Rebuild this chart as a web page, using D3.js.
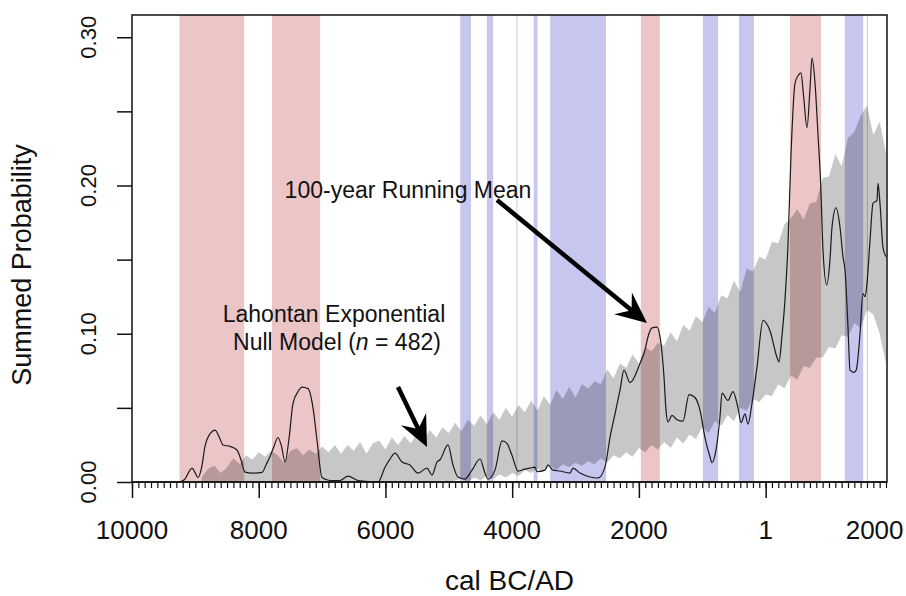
<!DOCTYPE html>
<html><head><meta charset="utf-8">
<script src="https://cdn.jsdelivr.net/npm/d3@7"></script>
<style>
body{margin:0;background:#fff;}
svg{display:block;}
text{font-family:"Liberation Sans",Arial,Helvetica,sans-serif;fill:#111;}
</style>
</head><body>
<svg id="chart" width="906" height="596"></svg>
<script>
// ---- data ----
const curveYears = [-9250,-9164,-9100,-9053,-9000,-8958,-8900,-8848,-8760,-8690,-8620,-8564,-8453,-8343,-8280,-8217,-8100,-7948,-7880,-7822,-7760,-7696,-7640,-7585,-7520,-7459,-7380,-7317,-7222,-7143,-7080,-7001,-6875,-6717,-6591,-6433,-6117,-6007,-5920,-5849,-5739,-5613,-5486,-5344,-5265,-5186,-5139,-5013,-4934,-4855,-4744,-4634,-4508,-4429,-4381,-4271,-4160,-4082,-4003,-3908,-3798,-3719,-3640,-3608,-3482,-3434,-3356,-3245,-3087,-3040,-2929,-2772,-2645,-2535,-2456,-2377,-2298,-2235,-2140,-1982,-1904,-1856,-1793,-1714,-1667,-1604,-1572,-1541,-1477,-1399,-1304,-1209,-1115,-1036,-957,-878,-846,-783,-720,-688,-594,-515,-436,-388,-325,-278,-215,-136,-41,69,180,211,259,306,353,400,464,511,558,600,653,700,732,780,827,870,906,964,1016,1048,1111,1174,1221,1253,1300,1332,1395,1430,1490,1537,1570,1600,1648,1695,1758,1774,1805,1853,1900];
const curveValues = [0.000,0.002,0.007,0.0094,0.006,0.003,0.010,0.024,0.033,0.035,0.030,0.025,0.024,0.0216,0.015,0.0067,0.006,0.0065,0.012,0.017,0.024,0.030,0.024,0.0135,0.030,0.053,0.061,0.064,0.063,0.050,0.028,0.003,0.001,0.001,0.004,0.001,0.000,0.010,0.016,0.0195,0.0135,0.0115,0.006,0.0094,0.0047,0.0135,0.015,0.025,0.0115,0.0034,0.002,0.008,0.0155,0.006,0.002,0.008,0.0277,0.026,0.018,0.0074,0.0087,0.0094,0.010,0.007,0.008,0.0115,0.008,0.0074,0.006,0.0094,0.006,0.0034,0.0027,0.010,0.030,0.046,0.062,0.0755,0.067,0.080,0.089,0.098,0.104,0.1045,0.098,0.071,0.0485,0.0405,0.045,0.042,0.041,0.059,0.057,0.0485,0.030,0.017,0.013,0.0216,0.044,0.060,0.055,0.061,0.050,0.040,0.046,0.039,0.053,0.0775,0.109,0.102,0.084,0.081,0.099,0.123,0.160,0.220,0.269,0.274,0.276,0.260,0.239,0.265,0.286,0.269,0.234,0.200,0.156,0.133,0.150,0.172,0.185,0.172,0.152,0.143,0.1045,0.0755,0.074,0.0755,0.100,0.127,0.125,0.134,0.163,0.188,0.190,0.2015,0.188,0.158,0.152];

const envYears = [-8900,-8800,-8700,-8600,-8500,-8400,-8300,-8200,-8100,-8000,-7900,-7800,-7700,-7600,-7500,-7400,-7300,-7200,-7100,-7000,-6900,-6800,-6700,-6600,-6500,-6400,-6300,-6200,-6100,-6000,-5900,-5800,-5700,-5600,-5500,-5400,-5300,-5200,-5100,-5000,-4900,-4800,-4700,-4600,-4500,-4400,-4300,-4200,-4100,-4000,-3900,-3800,-3700,-3600,-3500,-3400,-3300,-3200,-3100,-3000,-2900,-2800,-2700,-2600,-2500,-2400,-2300,-2200,-2100,-2000,-1900,-1800,-1700,-1600,-1500,-1400,-1300,-1200,-1100,-1000,-900,-800,-700,-600,-500,-400,-300,-200,-100,0,100,200,300,400,500,600,700,800,900,1000,1100,1200,1300,1400,1500,1600,1700,1800,1900];
const envUpper = [0.003,0.009,0.011,0.006,0.010,0.016,0.012,0.018,0.015,0.020,
  0.017,0.021,0.018,0.013,0.021,0.023,0.018,0.022,0.019,0.024,
  0.020,0.025,0.019,0.025,0.021,0.027,0.019,0.026,0.028,0.022,
  0.030,0.025,0.031,0.026,0.033,0.028,0.035,0.030,0.037,0.033,
  0.040,0.034,0.042,0.038,0.045,0.039,0.047,0.042,0.050,0.044,
  0.052,0.047,0.055,0.048,0.058,0.052,0.062,0.056,0.064,0.057,
  0.066,0.063,0.068,0.066,0.076,0.070,0.080,0.077,0.086,0.080,
  0.091,0.088,0.094,0.092,0.101,0.095,0.106,0.102,0.112,0.108,
  0.118,0.114,0.126,0.124,0.136,0.128,0.144,0.142,0.152,0.150,
  0.162,0.161,0.174,0.178,0.184,0.177,0.188,0.189,0.205,0.206,
  0.221,0.213,0.232,0.236,0.247,0.254,0.234,0.243,0.222];
const envLower = [0,0,0,0,0,0,0,0,0,0,
  0,0,0,0,0,0,0,0,0,0,
  0,0,0,0,0,0,0,0,0,0,
  0,0,0,0,0,0,0,
  0.000,0.001,0.000,0.001,0.002,0.000,0.003,0.001,0.004,0.002,
  0.005,0.003,0.006,0.004,0.008,0.006,0.009,0.007,0.011,0.008,
  0.012,0.010,0.013,0.011,0.014,0.012,0.016,0.013,0.018,0.016,
  0.020,0.017,0.023,0.020,0.025,0.022,0.027,0.023,0.030,0.026,
  0.032,0.029,0.037,0.033,0.041,0.038,0.045,0.041,0.050,0.048,
  0.056,0.054,0.059,0.058,0.066,0.063,0.072,0.069,0.078,0.077,
  0.084,0.084,0.091,0.090,0.099,0.098,0.107,0.104,0.116,0.113,
  0.100,0.080];

const redBands = [[-9250,-8230],[-7790,-7030],[-1970,-1670],[385,874]];
const blueBands = [[-4820,-4650],[-4400,-4300],[-3932,-3918],[-3660,-3600],[-3400,-2520],[-990,-750],[-420,-185],[1250,1540],[1598,1614]];

const xMajorTicks = [-10000,-8000,-6000,-4000,-2000,1];
const xLabelYears = [-10000,-8000,-6000,-4000,-2000,1,1720];
const xLabels = ["10000","8000","6000","4000","2000","1","2000"];
const yTicks = [0,0.05,0.10,0.15,0.20,0.25,0.30];
const yLabelTicks = [0,0.10,0.20,0.30];

// ---- layout ----
const L = 132, R = 887, T = 15, B = 482;
const svg = d3.select("#chart");
const x = d3.scaleLinear().domain([-10000, 1900]).range([L, 886]);
const y = d3.scaleLinear().domain([0, 0.315]).range([B, T]);

svg.append("clipPath").attr("id","pc").append("rect")
  .attr("x",L).attr("y",T).attr("width",R-L).attr("height",B-T);
const g = svg.append("g").attr("clip-path","url(#pc)");

// bands
g.selectAll("rect.red").data(redBands).join("rect")
  .attr("x",d=>x(d[0])).attr("width",d=>x(d[1])-x(d[0]))
  .attr("y",T).attr("height",B-T).attr("fill","#ecc5c6");
g.selectAll("rect.blue").data(blueBands).join("rect")
  .attr("x",d=>x(d[0])).attr("width",d=>Math.max(1,x(d[1])-x(d[0])))
  .attr("y",T).attr("height",B-T).attr("fill","#c6c6ee");

// envelope
const envData = envYears.map((yr,i)=>({yr, lo:envLower[i], hi:envUpper[i]}));
g.append("path").datum(envData)
  .attr("d", d3.area().x(d=>x(d.yr)).y0(d=>y(d.lo)).y1(d=>y(d.hi)))
  .attr("fill","rgba(0,0,0,0.22)");

// curve
const curveData = curveYears.map((yr,i)=>({yr, v:curveValues[i]}));
g.append("path").datum(curveData)
  .attr("d", d3.line().x(d=>x(d.yr)).y(d=>y(d.v)).curve(d3.curveMonotoneX))
  .attr("fill","none").attr("stroke","#1a1a1a").attr("stroke-width",1.2);

// frame
svg.append("rect").attr("x",L).attr("y",T).attr("width",R-L).attr("height",B-T)
  .attr("fill","none").attr("stroke","#111").attr("stroke-width",1.5);

// x axis
const xAxisMinor = d3.axisBottom(x).tickValues(d3.range(-10000, 1901, 100)).tickSize(6).tickFormat("");
svg.append("g").attr("transform",`translate(0,${B})`).call(xAxisMinor)
  .call(a=>a.select(".domain").remove())
  .call(a=>a.selectAll("line").attr("stroke","#111").attr("stroke-width",1.2));
const xAxisMajor = d3.axisBottom(x).tickValues(xMajorTicks).tickSize(16).tickFormat("");
svg.append("g").attr("transform",`translate(0,${B})`).call(xAxisMajor)
  .call(a=>a.select(".domain").remove())
  .call(a=>a.selectAll("line").attr("stroke","#111").attr("stroke-width",1.5));
svg.append("line").attr("x1",L).attr("x2",x(1900)).attr("y1",B).attr("y2",B)
  .attr("stroke","#111").attr("stroke-width",1.5);
svg.selectAll("text.xl").data(xLabelYears).join("text")
  .attr("x",d=>x(d)).attr("y",539).attr("text-anchor","middle")
  .attr("font-size",26).text((d,i)=>xLabels[i]);

// y axis
const yAxis = d3.axisLeft(y).tickValues(yTicks).tickSize(15).tickFormat("");
svg.append("g").attr("transform",`translate(${L},0)`).call(yAxis)
  .call(a=>a.select(".domain").remove())
  .call(a=>a.selectAll("line").attr("stroke","#111").attr("stroke-width",1.5));
svg.selectAll("text.yl").data(yLabelTicks).join("text")
  .attr("transform",d=>`translate(96,${y(d)}) rotate(-90)`)
  .attr("text-anchor","middle").attr("font-size",22)
  .text(d=>d3.format(".2f")(d));

// axis titles
svg.append("text").attr("x",(L+R)/2).attr("y",590).attr("text-anchor","middle")
  .attr("font-size",28).text("cal BC/AD");
svg.append("text").attr("transform",`translate(31,265) rotate(-90)`)
  .attr("text-anchor","middle").attr("font-size",27).text("Summed Probability");

// annotations
svg.append("text").attr("x",408).attr("y",198).attr("text-anchor","middle")
  .attr("font-size",23).text("100-year Running Mean");
svg.append("text").attr("x",334).attr("y",322).attr("text-anchor","middle")
  .attr("font-size",23).text("Lahontan Exponential");
const t2 = svg.append("text").attr("x",337).attr("y",350).attr("text-anchor","middle").attr("font-size",23);
t2.append("tspan").text("Null Model (");
t2.append("tspan").attr("font-style","italic").text("n");
t2.append("tspan").text(" = 482)");

// arrows
function arrow(x1,y1,x2,y2){
  const dx=x2-x1, dy=y2-y1, len=Math.hypot(dx,dy), ux=dx/len, uy=dy/len;
  const px=-uy, py=ux, hl=31, hw=14, notch=20;
  svg.append("line").attr("x1",x1).attr("y1",y1)
    .attr("x2",x2-ux*notch).attr("y2",y2-uy*notch)
    .attr("stroke","#000").attr("stroke-width",4.5);
  const pts=[[x2,y2],[x2-ux*hl+px*hw,y2-uy*hl+py*hw],[x2-ux*notch,y2-uy*notch],[x2-ux*hl-px*hw,y2-uy*hl-py*hw]];
  svg.append("polygon").attr("points",pts.map(p=>p.join(",")).join(" ")).attr("fill","#000");
}
arrow(497,200,647,323);
arrow(398,387,427,447);
</script>
</body></html>
